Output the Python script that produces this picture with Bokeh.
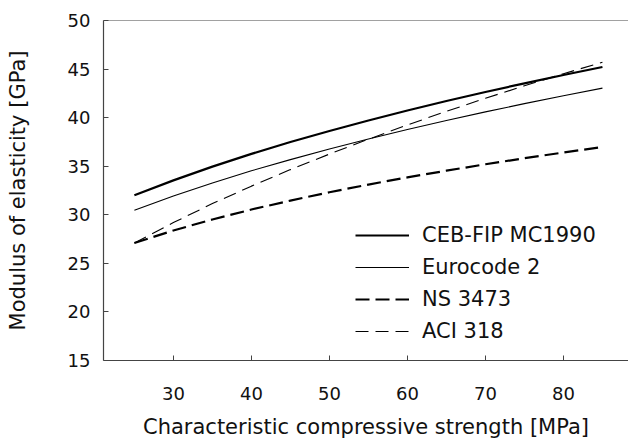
from bokeh.plotting import figure
from bokeh.models import FixedTicker, Span, Legend, LegendItem
from bokeh.embed import file_html
from bokeh.resources import INLINE

# Characteristic compressive strength [MPa]
fck = [25, 30, 35, 40, 45, 50, 55, 60, 65, 70, 75, 80, 85]
# Modulus of elasticity [GPa]
ceb_fip = [32.01, 33.54, 34.96, 36.27, 37.49, 38.63, 39.71, 40.73, 41.71, 42.64, 43.53, 44.39, 45.21]
eurocode2 = [30.47, 31.93, 33.28, 34.53, 35.68, 36.77, 37.80, 38.78, 39.70, 40.59, 41.44, 42.26, 43.04]
ns3473 = [27.10, 28.38, 29.52, 30.54, 31.46, 32.32, 33.11, 33.85, 34.54, 35.20, 35.82, 36.41, 36.98]
aci318 = [27.10, 29.20, 31.15, 32.95, 34.65, 36.25, 37.78, 39.25, 40.65, 41.99, 43.28, 44.52, 45.70]

x_ticks = [30, 40, 50, 60, 70, 80]
y_ticks = [15, 20, 25, 30, 35, 40, 45, 50]

FONT = "DejaVu Sans"
AXIS_COLOR = "#444444"

p = figure(width=628, height=446, x_range=(21.04, 88.34), y_range=(15, 50),
           output_backend="svg", toolbar_location=None,
           min_border_left=103, min_border_right=0, min_border_top=20, min_border_bottom=86)
p.background_fill_color = "white"
p.border_fill_color = "white"
p.outline_line_color = None
p.xgrid.visible = False
p.ygrid.visible = False

p.xaxis.ticker = FixedTicker(ticks=x_ticks)
p.yaxis.ticker = FixedTicker(ticks=y_ticks)
for ax in (p.xaxis[0], p.yaxis[0]):
    ax.axis_line_color = AXIS_COLOR
    ax.axis_line_width = 1.2
    ax.major_tick_line_color = AXIS_COLOR
    ax.major_tick_in = 5
    ax.major_tick_out = 0
    ax.minor_tick_line_color = None
    ax.major_label_text_font = FONT
    ax.major_label_text_font_size = "18px"
    ax.major_label_text_color = "#111111"
    ax.axis_label_text_font = FONT
    ax.axis_label_text_font_size = "21px"
    ax.axis_label_text_font_style = "normal"
    ax.axis_label_text_color = "#111111"

p.xaxis.axis_label = "Characteristic compressive strength [MPa]"
p.yaxis.axis_label = "Modulus of elasticity [GPa]"
p.xaxis.major_label_standoff = 26
p.xaxis.axis_label_standoff = 12
p.yaxis.major_label_standoff = 13
p.yaxis.axis_label_standoff = 35

top = Span(location=50, dimension="width", line_color=AXIS_COLOR, line_width=1.2)
p.add_layout(top)

r1 = p.line(fck, ceb_fip, line_color="black", line_width=2.2)
r2 = p.line(fck, eurocode2, line_color="black", line_width=1.1)
r3 = p.line(fck, ns3473, line_color="black", line_width=2.2, line_dash="14 6")
r4 = p.line(fck, aci318, line_color="black", line_width=1.1, line_dash="13 7")

legend = Legend(items=[
    LegendItem(label="CEB-FIP MC1990", renderers=[r1]),
    LegendItem(label="Eurocode 2", renderers=[r2]),
    LegendItem(label="NS 3473", renderers=[r3]),
    LegendItem(label="ACI 318", renderers=[r4]),
], location=(252, 17))
legend.label_text_font = FONT
legend.label_text_font_size = "21px"
legend.label_text_color = "#111111"
legend.glyph_width = 54
legend.glyph_height = 20
legend.label_height = 20
legend.label_standoff = 13
legend.spacing = 8
legend.padding = 0
legend.margin = 0
legend.border_line_color = None
legend.background_fill_alpha = 0
p.add_layout(legend)

open("out.html", "w").write(file_html(p, INLINE))
